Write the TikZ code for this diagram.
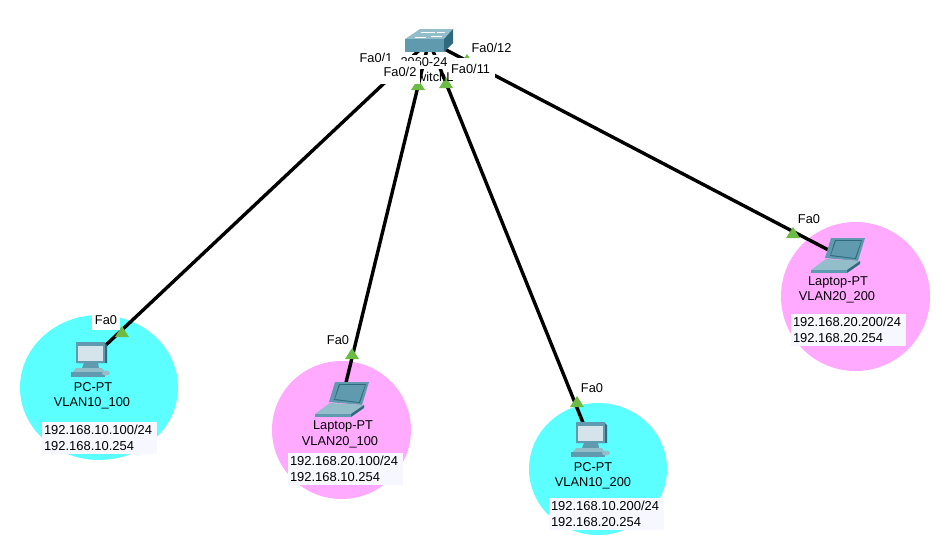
\documentclass[tikz,border=0pt]{standalone}
\usepackage{fontspec}
\setmainfont{Liberation Sans}
\usetikzlibrary{shapes.geometric}

\definecolor{vlanten}{HTML}{5CFFFF}
\definecolor{vlantwenty}{HTML}{FFAAFF}
\definecolor{linkgreen}{HTML}{6CBB45}
\definecolor{addrback}{HTML}{F7F8FF}
\definecolor{iconbody}{HTML}{5F9AAF}
\definecolor{icondark}{HTML}{2F6A80}
\definecolor{iconlight}{HTML}{94BDCA}
\definecolor{iconscreen}{HTML}{D5E3EA}

\tikzset{
    zone/.style={ellipse,inner sep=0pt},
    spot/.style={inner sep=0pt,minimum size=0pt},
    wire/.style={line width=3.4pt,black},
    plain/.style={inner sep=0pt,font=\fontsize{12.8}{16.5}\selectfont},
    port/.style={plain,fill=white},
    addr/.style={plain,fill=addrback,align=left,text width=111pt,inner xsep=2pt,inner ysep=3pt,font=\fontsize{12.95}{16.5}\selectfont},
    pc icon/.pic={
        \fill[icondark] (-14,-18) -- (14,-18) -- (17,-15) -- (17,3) -- (-13,3) -- cycle;
        \fill[iconbody] (-14,-18) -- (15,-18) -- (15,3) -- (-14,3) -- cycle;
        \fill[iconscreen] (-12,-14) -- (13,-14) -- (13,1) -- (-12,1) -- cycle;
        \fill[iconbody] (-6,3) -- (8,3) -- (9,8) -- (-8,8) -- cycle;
        \fill[iconlight] (-14,8) -- (12,8) -- (15,12) -- (-17,12) -- cycle;
        \fill[iconbody] (-19,12) -- (15,12) -- (15,17) -- (-19,17) -- cycle;
        \fill[iconlight] (16,13) ellipse (4pt and 2.5pt);
    },
    laptop icon/.pic={
        \fill[iconbody] (-7,-17) -- (27,-17) -- (20,6) -- (-13,3) -- cycle;
        \fill[icondark] (-3,-15) -- (24,-15) -- (18,4) -- (-8,1) -- cycle;
        \fill[iconbody] (-2,-14) -- (23,-14) -- (17,3) -- (-7,0) -- cycle;
        \fill[iconlight] (-12,4) -- (22,6) -- (9,15) -- (-27,15) -- cycle;
        \fill[iconbody] (-27,15) -- (9,15) -- (9,18) -- (-27,18) -- cycle;
        \fill[icondark] (9,18) -- (22,9) -- (22,6) -- (9,15) -- cycle;
    },
    switch icon/.pic={
        \fill[iconlight] (-24,-2) -- (-9,-12) -- (24,-12) -- (15,-2) -- cycle;
        \fill[iconbody] (-24,-2) -- (15,-2) -- (15,11) -- (-24,11) -- cycle;
        \fill[icondark] (15,-2) -- (24,-12) -- (24,2) -- (15,11) -- cycle;
        \draw[white,line width=0.8pt] (-14,-4) -- (-3,-4) (-8,-9) -- (6,-9) (2,-5) -- (13,-5) (8,-9) -- (16,-9);
    },
}
\newcommand{\linktip}[1]{\fill[linkgreen] (#1) +(-7,5) -- +(7,5) -- +(0,-6) -- cycle;}

\begin{document}
\begin{tikzpicture}[x=1pt,y=-1pt]
    \useasboundingbox[fill=white] (0,0) rectangle (936,542);

    % VLAN areas
    \node[zone,fill=vlanten,minimum width=158pt,minimum height=145pt] (zone100) at (99,387.5) {};
    \node[zone,fill=vlantwenty,minimum width=139pt,minimum height=138pt] (zone101) at (341.5,430) {};
    \node[zone,fill=vlanten,minimum width=138pt,minimum height=132pt] (zone200) at (598,469) {};
    \node[zone,fill=vlantwenty,minimum width=149pt,minimum height=149pt] (zone201) at (855.5,296.5) {};

    \node[spot] (sw) at (429,41) {};
    \node[spot] (pc100) at (90,360) {};
    \node[spot] (lap100) at (342,399) {};
    \node[spot] (pc200) at (590,440) {};
    \node[spot] (lap200) at (838,255) {};

    \draw[wire] (sw) -- (pc100);
    \draw[wire] (sw) -- (lap100);
    \draw[wire] (sw) -- (pc200);
    \draw[wire] (sw) -- (lap200);

    \foreach \tip in {{122,332},{352,354},{418,85},{446,83},{467,60},{577,402},{793,233}} {
        \linktip{\tip}
    }

    \pic at (sw) {switch icon};
    \pic at (pc100) {pc icon};
    \pic at (lap100) {laptop icon};
    \pic at (pc200) {pc icon};
    \pic at (lap200) {laptop icon};

    % switch labels
    \node[port] (p1) at (376,58) {Fa0/1};
    \node[port,minimum height=14pt] (model) at (424,62) {2960-24};
    \node[plain] (swname) at (431,77) {SwitchL};
    \node[port,minimum width=40pt,minimum height=23pt] (p2) at (400,72) {Fa0/2};
    \node[port,align=left,text width=46pt,minimum height=22pt] (p11) at (472,69) {\,Fa0/11};
    \node[port,minimum width=48pt,minimum height=15pt] (p12) at (491.5,47.5) {Fa0/12};

    % host labels
    \node[port,minimum width=28pt,minimum height=19pt] (f100) at (106,320) {Fa0};
    \node[port,minimum width=28pt,minimum height=17pt] (f101) at (338,340) {Fa0};
    \node[port,minimum width=28pt,minimum height=17pt] (f200) at (592,388) {Fa0};
    \node[port,minimum width=28pt,minimum height=17pt] (f201) at (809,219) {Fa0};

    \node[plain] (t100) at (93,387) {PC-PT};
    \node[plain] (v100) at (92,403) {VLAN10\_100};
    \node[plain] (t101) at (343,426) {Laptop-PT};
    \node[plain] (v101) at (340,442) {VLAN20\_100};
    \node[plain] (t200) at (593,467) {PC-PT};
    \node[plain] (v200) at (593,483) {VLAN10\_200};
    \node[plain] (t201) at (838,282) {Laptop-PT};
    \node[plain] (v201) at (837,297) {VLAN20\_200};

    \node[addr] (a100) at (99.5,438) {192.168.10.100/24\\192.168.10.254};
    \node[addr] (a101) at (345.5,469) {192.168.20.100/24\\192.168.10.254};
    \node[addr] (a200) at (606.5,514) {192.168.10.200/24\\192.168.20.254};
    \node[addr] (a201) at (848.5,330) {192.168.20.200/24\\192.168.20.254};
\end{tikzpicture}
\end{document}
